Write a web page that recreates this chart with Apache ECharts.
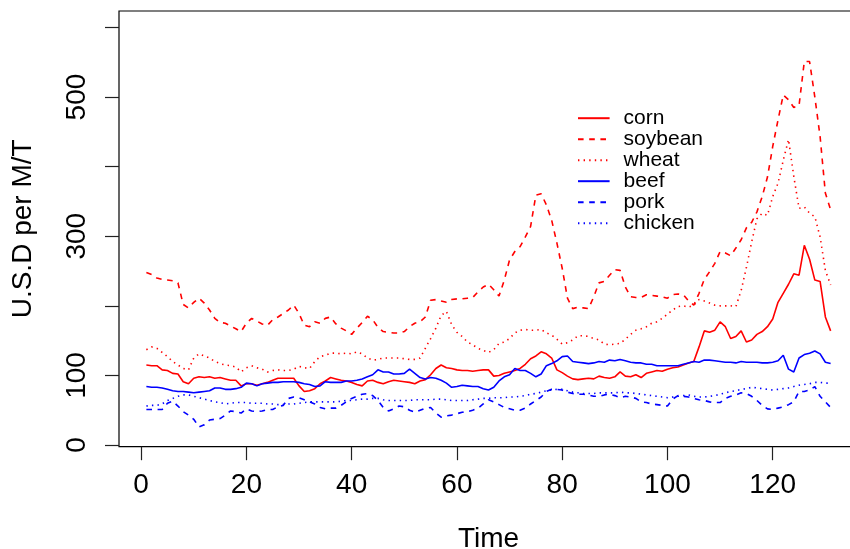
<!DOCTYPE html>
<html>
<head>
<meta charset="utf-8">
<script src="https://cdn.jsdelivr.net/npm/echarts@6/dist/echarts.min.js"></script>
<style>
html,body{margin:0;padding:0;background:#fff;}
#chart{width:850px;height:549px;}
</style>
</head>
<body>
<div id="chart"></div>
<script>
// Time index 1..131
const time = Array.from({length: 131}, (_, i) => i + 1);

const corn = [
115,114,114,108,107,103,102,91,88,96,
98,97,98,96,97,95,93,93,85,88,
88,86,88,90,93,96,96,96,96,85,
77,78,81,88,92,97,95,93,92,90,
87,85,92,93,90,88,91,93,92,91,
90,88,92,94,101,110,115,111,110,108,
107,107,106,107,108,108,99,100,103,105,
107,110,116,124,128,134,131,125,108,104,
99,95,94,95,96,95,99,97,96,98,
105,99,98,101,97,103,105,107,106,109,
111,112,115,118,120,141,164,162,165,177,
170,153,156,164,148,151,159,163,170,181,
205,218,231,246,244,287,267,237,235,184,164];

const soybean = [
248,245,240,238,237,236,233,202,197,205,
211,204,194,182,176,175,171,167,163,175,
182,178,174,172,180,184,189,194,201,189,
172,170,177,175,182,184,174,168,164,159,
168,176,185,180,169,163,162,161,161,163,
170,175,177,184,208,209,207,205,209,210,
210,211,212,220,227,231,223,214,237,266,
278,285,299,314,359,361,345,323,290,254,
211,196,198,197,196,213,233,235,244,252,
251,227,213,212,212,216,215,214,213,211,
216,217,216,207,201,218,238,249,261,278,
276,272,283,295,312,320,335,357,385,429,
467,503,496,485,488,551,551,500,443,362,338];

const wheat = [
137,141,139,133,127,120,115,110,108,125,
131,128,125,120,117,115,114,112,105,111,
114,111,109,105,107,108,107,107,109,113,
111,110,120,127,129,132,132,131,132,131,
134,131,125,122,123,125,125,125,125,124,
123,123,125,139,153,168,186,192,173,162,
156,148,144,139,136,133,137,146,148,153,
161,165,166,165,165,166,161,158,152,145,
147,151,157,157,156,153,151,145,144,145,
146,152,159,165,167,170,175,177,182,188,
194,199,200,198,201,209,207,204,201,200,
200,200,199,222,255,292,325,333,330,357,
376,409,439,386,340,342,333,328,299,251,230];

const beef = [
84,83,83,82,80,78,77,77,76,75,
76,77,78,82,82,80,80,81,83,89,
88,85,88,89,90,90,91,91,91,90,
88,87,84,85,91,90,90,90,92,92,
93,95,98,101,108,105,105,102,102,103,
109,103,97,95,97,96,93,89,83,84,
86,85,84,84,81,79,83,92,98,101,
110,107,107,103,98,102,114,117,121,127,
128,120,119,118,117,118,120,119,122,121,
123,121,119,118,118,116,116,114,114,114,
114,114,116,118,120,119,122,122,121,120,
119,119,118,120,119,119,119,118,118,119,
121,129,109,105,125,130,132,135,131,119,117];

const pork = [
51,51,51,51,60,63,56,48,43,37,
26,29,36,37,38,43,49,48,46,52,
49,48,49,51,51,55,57,67,69,68,
65,62,59,54,52,53,53,57,62,67,
70,73,74,71,64,54,49,52,56,55,
50,47,50,53,54,46,40,42,43,45,
47,48,50,53,59,65,62,58,54,52,
50,50,53,59,64,69,77,80,80,79,
76,74,73,73,72,70,70,72,73,71,
68,70,69,67,62,61,59,58,57,56,
66,71,70,69,67,65,64,62,61,61,
67,70,72,75,74,70,64,57,52,51,
53,55,58,62,77,77,79,84,70,62,54];

const chicken = [
56,57,57,59,64,67,70,72,72,70,
68,66,64,62,61,59,60,61,61,61,
60,60,60,59,59,58,58,59,59,60,
61,62,62,62,62,62,62,63,64,64,
65,66,66,67,67,65,64,64,64,64,
64,65,65,65,65,66,66,65,64,64,
64,64,65,66,67,67,68,68,68,69,
69,70,71,73,74,76,78,79,80,80,
78,76,75,74,74,74,75,75,75,75,
76,75,75,74,73,72,71,70,69,68,
69,70,71,72,70,69,69,70,71,73,
75,77,78,80,81,83,82,81,80,79,
80,81,82,84,86,87,88,90,90,89,89];

const xTicks = [0, 20, 40, 60, 80, 100, 120];
const yTicks = [0, 100, 200, 300, 400, 500, 600];
const yTickLabels = [0, 100, 300, 500];

const FONT = '"Liberation Sans", Arial, Helvetica, sans-serif';
const DASHED = [5.6, 5.6];
const DOTTED = [1.4, 4.2];

function mk(name, arr, color, type) {
  return {
    name: name,
    type: 'line',
    data: time.map((t, i) => [t, arr[i]]),
    symbol: 'none',
    silent: true,
    lineStyle: {color: color, width: 1.6, type: type, cap: 'butt'},
    itemStyle: {color: color}
  };
}

const chart = echarts.init(document.getElementById('chart'), null, {renderer: 'canvas'});
chart.setOption({
  animation: false,
  backgroundColor: '#fff',
  textStyle: {fontFamily: FONT},
  grid: {
    left: 119, top: 11, width: 739, height: 435.7,
    show: true, borderColor: '#000', borderWidth: 1.2,
    containLabel: false, outerBoundsMode: 'none'
  },
  legend: {
    orient: 'vertical',
    left: 577, top: 107.7,
    padding: 0,
    itemWidth: 31.6, itemHeight: 20, itemGap: 0,
    itemStyle: {opacity: 0, borderWidth: 0},
    textStyle: {fontFamily: FONT, fontSize: 21, color: '#000', lineHeight: 20, padding: [0, 0, 0, 9]},
    data: ['corn', 'soybean', 'wheat', 'beef', 'pork', 'chicken']
  },
  xAxis: {
    type: 'value',
    min: -4.2, max: 136.2,
    name: 'Time',
    nameLocation: 'middle',
    nameGap: 78.6,
    nameMoveOverlap: false,
    nameTextStyle: {fontFamily: FONT, fontSize: 28, color: '#000'},
    axisLine: {show: false, onZero: false},
    splitLine: {show: false},
    axisTick: {show: true, length: 13.5, lineStyle: {color: '#222', width: 1.2}, customValues: xTicks},
    axisLabel: {fontFamily: FONT, fontSize: 28, color: '#000', margin: 25, customValues: xTicks}
  },
  yAxis: {
    type: 'value',
    min: -2.4, max: 623.6,
    name: 'U.S.D per M/T',
    nameLocation: 'middle',
    nameGap: 82,
    nameMoveOverlap: false,
    nameTextStyle: {fontFamily: FONT, fontSize: 28, color: '#000'},
    axisLine: {show: false, onZero: false},
    splitLine: {show: false},
    axisTick: {show: true, length: 14, lineStyle: {color: '#222', width: 1.2}, customValues: yTicks},
    axisLabel: {fontFamily: FONT, fontSize: 28, color: '#000', margin: 28, rotate: 90, customValues: yTickLabels}
  },
  series: [
    mk('corn', corn, '#FF0000', 'solid'),
    mk('soybean', soybean, '#FF0000', DASHED),
    mk('wheat', wheat, '#FF0000', DOTTED),
    mk('beef', beef, '#0000FF', 'solid'),
    mk('pork', pork, '#0000FF', DASHED),
    mk('chicken', chicken, '#0000FF', DOTTED)
  ]
});
</script>
</body>
</html>
